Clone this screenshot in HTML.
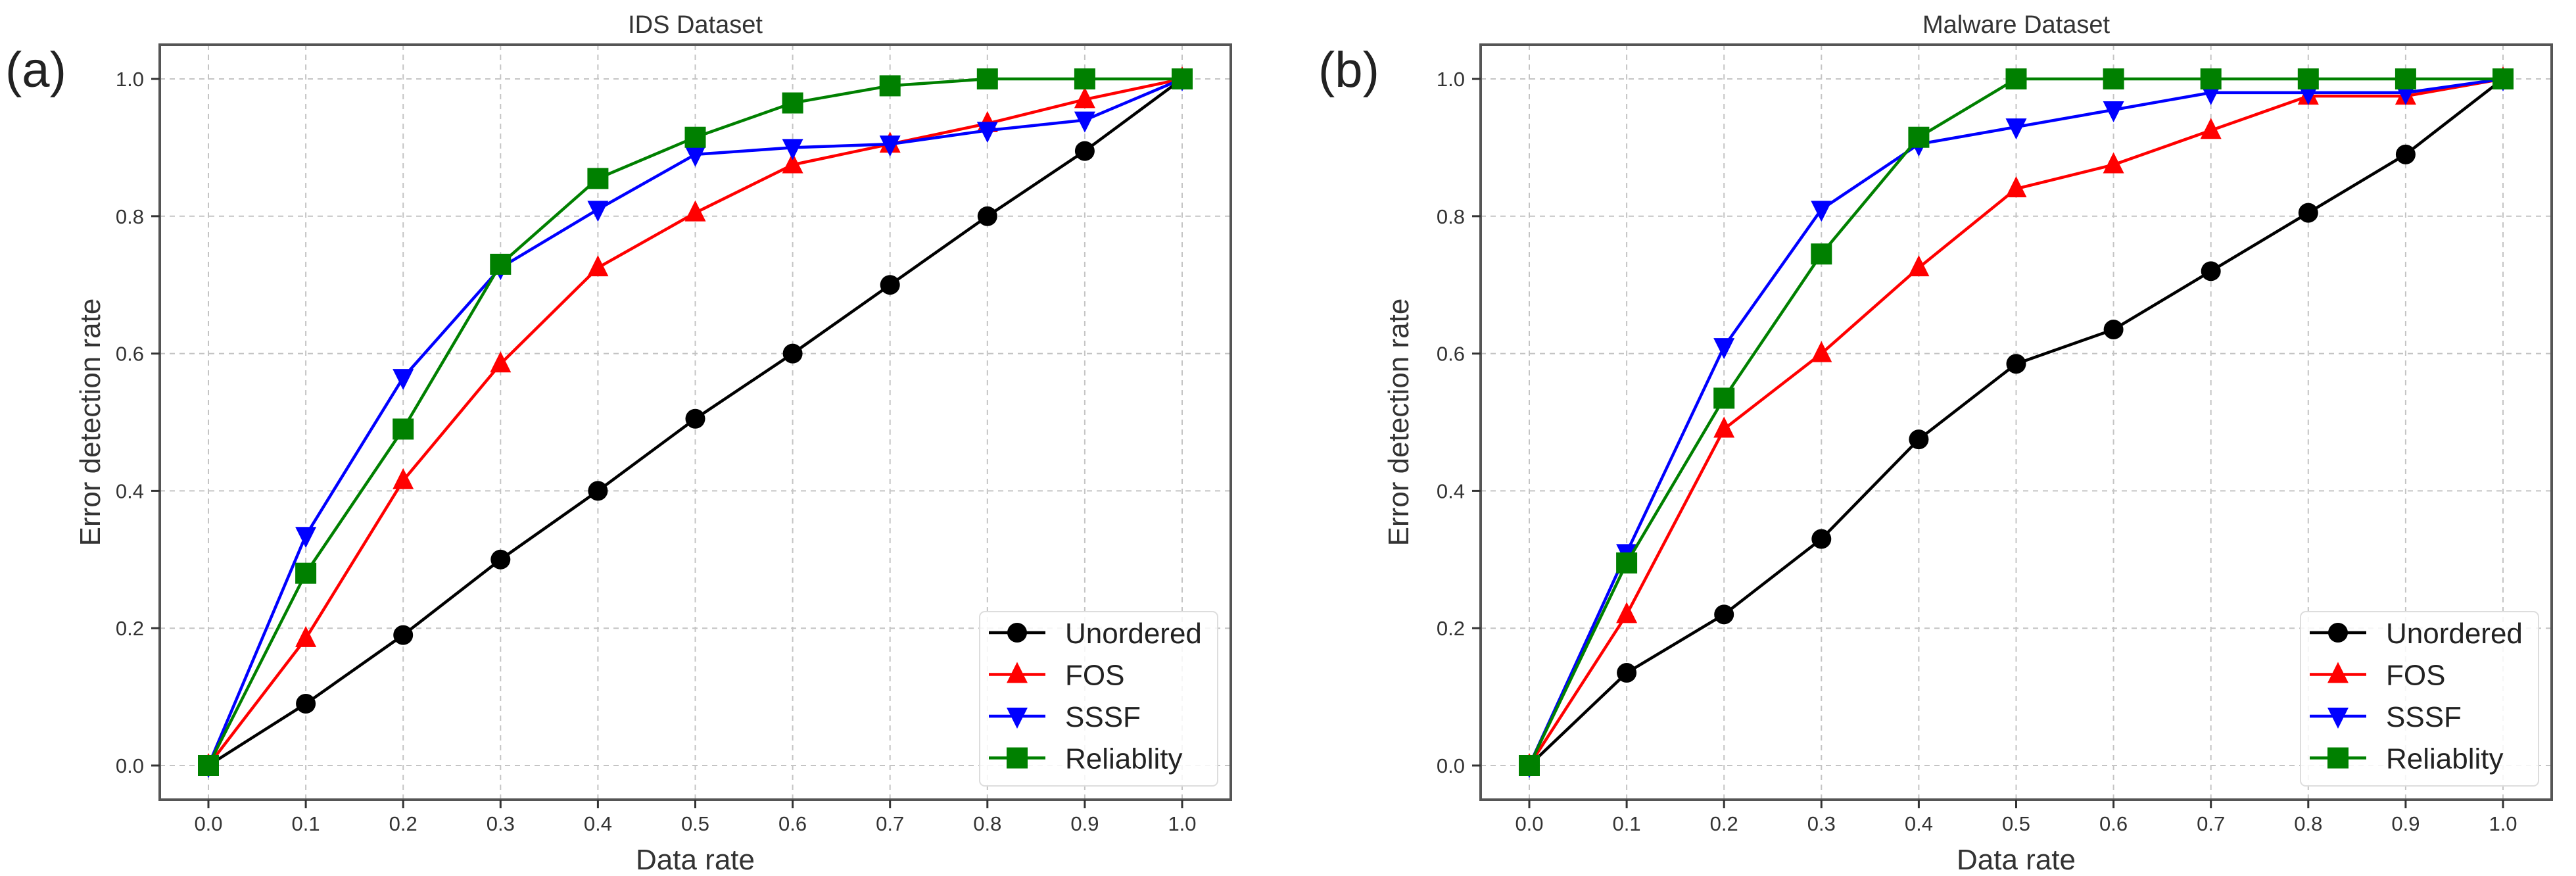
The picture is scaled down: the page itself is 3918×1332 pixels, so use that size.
<!DOCTYPE html>
<html><head><meta charset="utf-8"><style>
html,body{margin:0;padding:0;background:#fff;}
svg{display:block;font-family:"Liberation Sans",sans-serif;}
</style></head><body>
<svg id="fig" width="3918" height="1332" viewBox="0 0 3918 1332" xmlns="http://www.w3.org/2000/svg"></svg>
<script>
const xCategories=[0,0.1,0.2,0.3,0.4,0.5,0.6,0.7,0.8,0.9,1.0];
const xTickLabels=["0.0","0.1","0.2","0.3","0.4","0.5","0.6","0.7","0.8","0.9","1.0"];
const yTicks=[0,0.2,0.4,0.6,0.8,1.0];
const yTickLabels=["0.0","0.2","0.4","0.6","0.8","1.0"];
const seriesNames=["Unordered","FOS","SSSF","Reliablity"];
const idsUnordered=[0,0.09,0.19,0.30,0.40,0.505,0.60,0.70,0.80,0.895,1.0];
const idsFOS=[0,0.185,0.415,0.585,0.725,0.805,0.875,0.905,0.935,0.97,1.0];
const idsSSSF=[0,0.335,0.565,0.725,0.81,0.89,0.90,0.905,0.925,0.94,1.0];
const idsReliability=[0,0.28,0.49,0.73,0.855,0.915,0.965,0.99,1.0,1.0,1.0];
const malUnordered=[0,0.135,0.22,0.33,0.475,0.585,0.635,0.72,0.805,0.89,1.0];
const malFOS=[0,0.22,0.49,0.60,0.725,0.84,0.875,0.925,0.975,0.975,1.0];
const malSSSF=[0,0.31,0.61,0.81,0.905,0.93,0.955,0.98,0.98,0.98,1.0];
const malReliability=[0,0.295,0.535,0.745,0.915,1,1,1,1,1,1];

const NS="http://www.w3.org/2000/svg";
const svg=document.getElementById('fig');
const colors=["#000000","#ff0000","#0000ff","#008000"];
const shapes=["circle","up","down","square"];
function mk(tag,attrs,parent){const e=document.createElementNS(NS,tag);for(const k in attrs)e.setAttribute(k,attrs[k]);(parent||svg).appendChild(e);return e;}
function marker(g,shape,cx,cy,color){
  let e;
  if(shape==="circle"){e=mk('circle',{cx:cx,cy:cy,r:15,fill:color},g);}
  else if(shape==="square"){e=mk('rect',{x:cx-16,y:cy-16,width:32,height:32,fill:color},g);}
  else if(shape==="up"){e=mk('polygon',{points:`${cx},${cy-19} ${cx+16},${cy+13} ${cx-16},${cy+13}`,fill:color},g);}
  else {e=mk('polygon',{points:`${cx},${cy+19} ${cx+16},${cy-13} ${cx-16},${cy-13}`,fill:color},g);}
  return e;
}
function panel(opt){
  const L=opt.left,R=opt.left+1629,T=68,B=1216;
  const xs=v=>L+74+v*1481;
  const ys=v=>B-52-v*1044;
  const g=mk('g',{});
  
  
  // grid
  xCategories.forEach(v=>{const l=mk('line',{x1:xs(v),x2:xs(v),y1:T,y2:B,stroke:"#c4c4c4","stroke-width":2,"stroke-dasharray":"8,7"},g);
    });
  yTicks.forEach(v=>{const l=mk('line',{x1:L,x2:R,y1:ys(v),y2:ys(v),stroke:"#c4c4c4","stroke-width":2,"stroke-dasharray":"8,7"},g);
    });
  // series
  opt.series.forEach((arr,si)=>{
    const pts=arr.map((v,i)=>xs(xCategories[i])+","+ys(v)).join(" ");
    const pl=mk('polyline',{points:pts,fill:"none",stroke:colors[si],"stroke-width":4.5,"stroke-linejoin":"round"},g);
    
    
    arr.forEach((v,i)=>{const m=marker(g,shapes[si],xs(xCategories[i]),ys(v),colors[si]);
      
      });
  });
  // frame
  const fr=mk('rect',{x:L,y:T,width:R-L,height:B-T,fill:"none",stroke:"#555","stroke-width":4},g);
  
  // ticks
  xCategories.forEach((v,i)=>{mk('line',{x1:xs(v),x2:xs(v),y1:B,y2:B+13,stroke:"#333","stroke-width":3},g);
    const t=mk('text',{x:xs(v),y:1263,"text-anchor":"middle","font-size":31,fill:"#333"},g);t.textContent=xTickLabels[i];
    });
  yTicks.forEach((v,i)=>{mk('line',{x1:L-13,x2:L,y1:ys(v),y2:ys(v),stroke:"#333","stroke-width":3},g);
    const t=mk('text',{x:L-24,y:ys(v)+11,"text-anchor":"end","font-size":31,fill:"#333"},g);t.textContent=yTickLabels[i];
    });
  // labels
  const ti=mk('text',{x:(L+R)/2,y:50,"text-anchor":"middle","font-size":38,fill:"#333"},g);ti.textContent=opt.title;
  
  const xl=mk('text',{x:(L+R)/2,y:1322,"text-anchor":"middle","font-size":44,fill:"#333"},g);xl.textContent="Data rate";
  
  const yl=mk('text',{x:0,y:0,"text-anchor":"middle","font-size":44,fill:"#333",transform:`translate(${opt.ylx},${(T+B)/2}) rotate(-90)`},g);yl.textContent="Error detection rate";
  
  const pa=mk('text',{x:opt.px,y:132,"font-size":76,fill:"#222"},g);pa.textContent=opt.tag;
  
  // legend
  const lg=mk('g',{},g);
  const lx=R-382;
  mk('rect',{x:lx,y:930,width:362,height:265,rx:8,fill:"#fff","fill-opacity":0.85,stroke:"#ddd","stroke-width":2},lg);
  seriesNames.forEach((n,si)=>{
    const cy=962+si*63.5;
    const e=mk('g',{},lg);
    mk('line',{x1:lx+14,x2:lx+100,y1:cy,y2:cy,stroke:colors[si],"stroke-width":4.5},e);
    marker(e,shapes[si],lx+57,cy,colors[si]);
    const t=mk('text',{x:lx+130,y:cy+16,"font-size":44,fill:"#222"},e);t.textContent=n;
  });
}
panel({name:'ids-chart',left:243,title:"IDS Dataset",tag:"(a)",px:8,ylx:152,series:[idsUnordered,idsFOS,idsSSSF,idsReliability]});
panel({name:'malware-chart',left:2252,title:"Malware Dataset",tag:"(b)",px:2005,ylx:2142,series:[malUnordered,malFOS,malSSSF,malReliability]});
</script>
</body></html>
